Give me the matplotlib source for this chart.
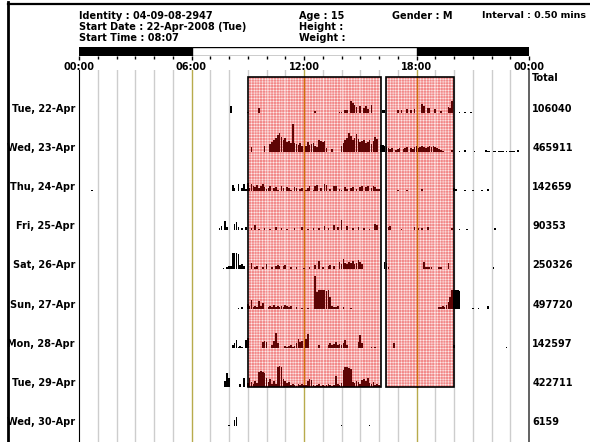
import matplotlib
matplotlib.use('Agg')
import matplotlib.pyplot as plt
from matplotlib.patches import Rectangle
from matplotlib.lines import Line2D
from matplotlib.transforms import blended_transform_factory

plt.rcParams['font.family'] = ['DejaVu Sans']
plt.rcParams['font.weight'] = 'bold'
plt.rcParams['font.size'] = 7
plt.rcParams['hatch.linewidth'] = 0.3

days = ['Tue, 22-Apr', 'Wed, 23-Apr', 'Thu, 24-Apr', 'Fri, 25-Apr', 'Sat, 26-Apr',
        'Sun, 27-Apr', 'Mon, 28-Apr', 'Tue, 29-Apr', 'Wed, 30-Apr']
totals = [106040, 465911, 142659, 90353, 250326, 497720, 142597, 422711, 6159]

hour_labels = ['00:00', '06:00', '12:00', '18:00', '00:00']

# activity bursts: (start hour, counts for consecutive 6-minute epochs)
EPOCH = 0.1

tue22 = [(8.1, [7]), (9.0, [1]), (9.6, [5]), (12.6, [2]), (13.9, [1, 1, 0, 3]),
         (14.3, [3, 0, 12, 10, 8, 6]), (15.0, [7, 0, 5, 7, 4, 0, 8]), (16.2, [3, 3]),
         (17.0, [3, 0, 3]), (17.5, [4, 0, 3, 0, 4]), (18.3, [9, 7, 0, 5, 5]),
         (19.0, [4]), (19.3, [2]), (19.7, [6, 5, 12]), (20.3, [1]), (20.6, [1]), (20.9, [1])]

wed23 = [(9.2, [5]), (9.9, [6]),
         (10.2, [8, 10, 12, 14, 17, 19, 15, 12, 14, 10, 11, 9, 28, 9, 8, 7, 9, 6]),
         (12.1, [6, 10, 7, 8, 9, 6, 5, 12, 11, 10, 11, 4]), (13.5, [3]),
         (14.0, [6, 9, 12, 14, 19, 16, 12, 14, 18, 13, 10, 11, 12, 9, 10, 12, 8, 11, 15, 13]),
         (16.1, [7, 7, 6, 5, 4, 3, 4, 0, 2, 3, 4, 0, 3, 4, 5, 0, 4, 3, 5, 6, 4, 5, 6, 5,
                 4, 5, 6, 5, 6, 5, 4, 3, 2, 1]),
         (19.9, [2]), (20.3, [1]), (20.6, [2]), (21.1, [1]),
         (21.7, [2, 1, 1, 0, 1, 1, 0, 1, 1, 1, 0, 1, 0, 1, 1, 1, 0, 2])]

thu24 = [(0.7, [1]), (8.2, [6, 3, 0, 7, 0, 3, 7, 2]),
         (9.0, [8, 3, 7, 5, 4, 6, 3, 5, 7, 4, 2, 3, 5, 0, 3, 4, 1, 0, 5, 3,
                0, 4, 3, 1, 0, 4, 3, 0, 2, 3, 0, 1, 3, 5, 0, 1, 5, 6, 0, 3,
                0, 7, 6, 0, 2, 0, 5, 5, 0, 2, 1, 0, 4, 2, 0, 3, 4, 0, 2, 0,
                4, 5, 0, 4, 5, 0, 3, 5, 4, 2, 2]),
         (16.4, [2]), (17.0, [1]), (17.5, [1]), (18.3, [2]), (20.0, [3, 2]),
         (20.6, [1]), (21.0, [1]), (21.5, [1]), (21.8, [2])]

fri25 = [(7.5, [2, 4, 0, 9, 3, 0, 0, 0, 6, 8, 3, 0, 2, 0, 3]),
         (9.2, [2]), (9.4, [5]), (9.6, [1]), (9.9, [2]), (10.2, [1]), (10.5, [3]),
         (10.8, [2]), (11.1, [1]), (11.5, [2]), (11.9, [3]), (12.2, [1]), (12.5, [2]),
         (12.8, [2]), (13.1, [4, 0, 2]), (13.6, [5, 0, 3]), (14.0, [10]), (14.3, [4]),
         (14.6, [2]), (14.9, [3]), (15.2, [2]), (15.5, [1]), (15.8, [6, 5]),
         (16.5, [3, 4]), (17.2, [1]), (17.9, [3]), (18.1, [2]), (18.3, [2]), (18.6, [3]),
         (19.9, [2]), (20.3, [1]), (20.7, [1]), (22.2, [2])]

sat26 = [(7.7, [1]), (7.9, [2, 3, 3, 16, 16, 16, 15, 4, 5, 3]),
         (9.2, [6, 0, 2, 3]), (9.8, [2, 0, 5]), (10.3, [2, 0, 3, 4, 3, 0, 3, 4]),
         (11.3, [2]), (11.6, [2]), (12.0, [1]), (12.3, [2]), (12.6, [4, 0, 8, 0, 2]),
         (13.3, [3, 4, 0, 3]), (13.9, [7, 5, 10, 6, 5, 7, 6, 8, 5, 6, 9, 7, 5]),
         (16.3, [7, 6, 2]), (18.4, [7, 2, 2, 2, 2]), (19.2, [2, 2]), (19.7, [6]), (22.1, [2])]

sun27 = [(8.5, [1, 0, 2]), (9.0, [5, 3, 9, 2, 3, 2, 8, 3, 6]),
         (10.1, [2, 3, 2, 4, 2, 3, 2, 3, 2, 4, 3, 2, 3]),
         (11.6, [2]), (11.9, [1]), (12.2, [1]),
         (12.6, [33, 17, 19, 19, 19, 19, 18, 19, 12]), (13.5, [3, 2, 2, 3]),
         (14.1, [2]), (14.5, [1]),
         (19.2, [2, 2, 3, 2, 4, 7, 12, 19, 19, 19, 19, 18]),
         (21.0, [1]), (21.3, [1]), (21.8, [3])]

mon28 = [(8.2, [3, 5, 8, 1, 2, 1, 0, 8, 10]), (9.8, [6, 7, 6]), (10.3, [3, 7, 15, 5]),
         (11.0, [2, 1, 2, 3, 1, 2, 5, 9, 6, 7]), (12.1, [9, 14]), (12.8, [3]),
         (13.3, [3, 5, 3, 4, 6, 3, 4, 3, 5, 8, 3]), (14.9, [6, 13, 5]), (15.6, [1, 0, 1]),
         (16.8, [5]), (20.0, [3]), (22.8, [1])]

tue29 = [(7.8, [6, 14, 9]), (8.6, [3, 0, 9]),
         (9.0, [4, 9, 5, 3, 6, 4, 15, 16, 15, 14, 9, 5, 8, 3, 6, 3, 20, 21, 20, 8,
                6, 4, 5, 2, 3, 2, 1, 3, 2, 3, 2, 2, 6, 8, 7, 2, 1, 2, 3, 1,
                2, 1, 2, 3, 2, 1, 2, 11, 3, 2, 4, 17, 20, 20, 19, 18, 5, 4, 6, 5,
                3, 7, 8, 6, 9, 4, 3, 5, 2, 3, 2])]

wed30 = [(8.0, [1]), (8.3, [6, 9]), (14.0, [1]), (15.5, [1])]

activity = [tue22, wed23, thu24, fri25, sat26, sun27, mon28, tue29, wed30]

# highlighted periods (hours) covering the first eight days
highlight = [(9.0, 16.08), (16.35, 20.0)]
highlight_days = 8

ROW = 39.2

fig = plt.figure(figsize=(5.9, 4.42), dpi=100)
W, H = 590, 442

ax = fig.add_axes([79 / W, 0, 450 / W, (H - 70) / H])
ax.set_xlim(0, 24)
ax.set_ylim(H - 112.7, -42.7)

# hour grid
for h in range(1, 24):
    if h % 6:
        ax.axvline(h, color='#cdcdcd', lw=1, zorder=1)
    else:
        ax.axvline(h, color='#b8ab4c', lw=1, zorder=1)

top = -ROW * 0.92
bottom = (highlight_days - 1) * ROW
for start, end in highlight:
    ax.add_patch(Rectangle((start, top), end - start, bottom - top, facecolor='#f28888',
                           edgecolor='white', hatch='++++++', lw=0, zorder=2))
    ax.add_patch(Rectangle((start, top), end - start, bottom - top, facecolor='none',
                           edgecolor='black', lw=1.2, zorder=5))
    for h in range(1, 24):
        if start < h < end:
            if h % 6:
                ax.plot([h, h], [top, bottom], color='white', alpha=0.35, lw=1, zorder=3)
            else:
                ax.plot([h, h], [top, bottom], color='#d0700a', lw=1, zorder=3)

# activity bars
for i, bursts in enumerate(activity):
    xs_in, hs_in, xs_out, hs_out = [], [], [], []
    for start, counts in bursts:
        for k, c in enumerate(counts):
            if c == 0:
                continue
            t = start + k * EPOCH
            inside = i < highlight_days and any(s <= t < e for s, e in highlight)
            if inside:
                xs_in.append(t)
                hs_in.append(-c)
            else:
                xs_out.append(t)
                hs_out.append(-c)
    ax.bar(xs_in, hs_in, bottom=i * ROW, width=0.09, color='#5e0505', lw=0, zorder=4)
    ax.bar(xs_out, hs_out, bottom=i * ROW, width=0.09, color='black', lw=0, zorder=4)

trans = blended_transform_factory(ax.transAxes, ax.transData)
for i, (day, tot) in enumerate(zip(days, totals)):
    ax.text(-0.009, i * ROW - 4, day, transform=trans, ha='right', va='center')
    ax.text(1.007, i * ROW - 4, str(tot), transform=trans, ha='left', va='center')

ax.set_xticks([])
ax.set_yticks([])
ax.spines['top'].set_visible(False)
ax.spines['bottom'].set_visible(False)
ax.spines['left'].set_color('black')
ax.spines['right'].set_color('#555555')
ax.spines['right'].set_linewidth(1.3)

# day/night bar in header
bar = fig.add_axes([79 / W, 1 - 56 / H, 450 / W, 9.3 / H])
bar.barh(0.5, 6, left=0, height=1, color='black')
bar.barh(0.5, 12, left=6, height=1, color='white', edgecolor='black', lw=1)
bar.barh(0.5, 6, left=18, height=1, color='black')
bar.set_xlim(0, 24)
bar.set_ylim(0, 1)
bar.set_yticks([])
bar.set_xticks(range(0, 25, 6))
bar.set_xticklabels(hour_labels)
bar.set_xticks(range(0, 25), minor=True)
bar.tick_params(axis='x', which='major', length=3, width=1, pad=1)
bar.tick_params(axis='x', which='minor', length=2, width=1)
for s in bar.spines.values():
    s.set_visible(False)

fig.text(532 / W, 1 - 78 / H, 'Total', ha='left', va='center')

info_left = ['Identity : 04-09-08-2947', 'Start Date : 22-Apr-2008 (Tue)', 'Start Time : 08:07']
info_mid = ['Age : 15', 'Height :', 'Weight :']
for j, (a, b) in enumerate(zip(info_left, info_mid)):
    y = 1 - (16 + 11 * j) / H
    fig.text(79 / W, y, a, ha='left', va='center')
    fig.text(299 / W, y, b, ha='left', va='center')
fig.text(392 / W, 1 - 16 / H, 'Gender : M', ha='left', va='center')
fig.text(482 / W, 1 - 16 / H, 'Interval : 0.50 mins', ha='left', va='center', fontsize=6.8)

# window frame
fig.add_artist(Line2D([8 / W, 8 / W], [0, 1 - 2 / H], color='black', lw=2))
fig.add_artist(Line2D([8 / W, 1], [1 - 3.5 / H, 1 - 3.5 / H], color='black', lw=1.6))

fig.savefig('out.png', dpi=100)
